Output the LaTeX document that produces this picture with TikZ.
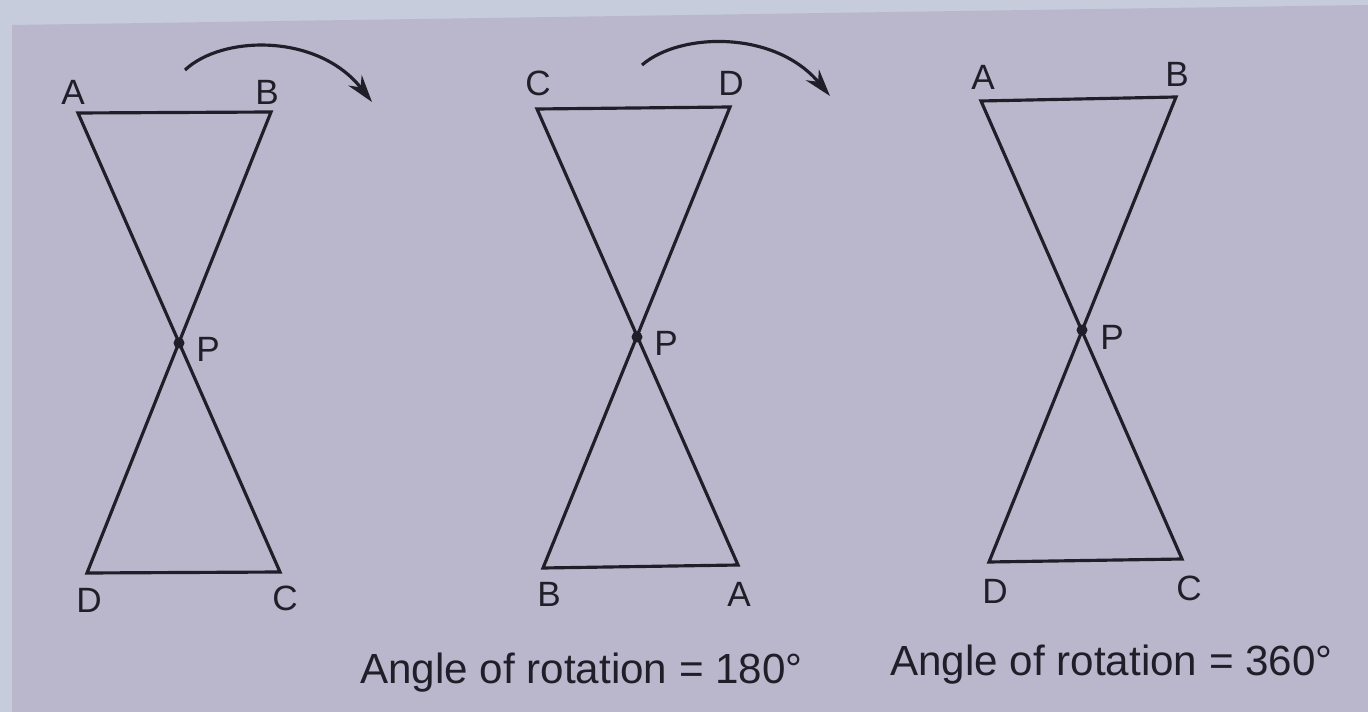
\documentclass[tikz,border=0pt]{standalone}
\usepackage{fontspec}
\setmainfont{Liberation Sans}
\usetikzlibrary{arrows.meta}
\definecolor{pagebg}{RGB}{198,204,219}
\definecolor{paperbg}{RGB}{186,183,204}
\definecolor{inkdark}{RGB}{32,30,40}
\tikzset{
  edge/.style={draw=inkdark, line width=1.8pt, line join=miter},
  vlbl/.style={font=\fontsize{20}{24}\selectfont, text=inkdark, inner sep=0pt},
  caption/.style={font=\fontsize{24}{28}\selectfont, text=inkdark, inner sep=0pt},
  rotarr/.style={draw=inkdark, line width=1.8pt, -{Stealth[length=5.5mm,width=3.4mm]}},
  pdot/.style={circle, fill=inkdark, inner sep=0pt, minimum size=2.2mm},
}
\begin{document}
\begin{tikzpicture}[x=0.02cm,y=-0.02cm]
  \useasboundingbox (0,0) rectangle (1368,712);
  \fill[pagebg] (0,0) rectangle (1368,712);
  \fill[paperbg] (12,25) -- (1368,5) -- (1368,712) -- (12,712) -- cycle;
  % original position
  \coordinate (a1) at (78,113);
  \coordinate (b1) at (271,112);
  \coordinate (c1) at (280,572);
  \coordinate (d1) at (87,573);
  \node[pdot] (p1) at (179,343) {};
  % after half turn
  \coordinate (c2) at (537,109);
  \coordinate (d2) at (730,107);
  \coordinate (a2) at (738,565);
  \coordinate (b2) at (543,568);
  \node[pdot] (p2) at (637,337) {};
  % after full turn
  \coordinate (a3) at (981,101);
  \coordinate (b3) at (1176,97);
  \coordinate (c3) at (1182,559);
  \coordinate (d3) at (989,562);
  \node[pdot] (p3) at (1082,330) {};
  \foreach \i in {1,2,3}{
    \draw[edge] (a\i) -- (b\i) -- (d\i) -- (c\i) -- cycle;
  }
  % vertex labels
  \node[vlbl] (la1) at (73,92)   {A};
  \node[vlbl] (lb1) at (267,92)  {B};
  \node[vlbl] (lc1) at (285,598) {C};
  \node[vlbl] (ld1) at (89,600)  {D};
  \node[vlbl] (lp1) at (208,349) {P};
  \node[vlbl] (lc2) at (538,83)  {C};
  \node[vlbl] (ld2) at (731,83)  {D};
  \node[vlbl] (la2) at (739,594) {A};
  \node[vlbl] (lb2) at (549,594) {B};
  \node[vlbl] (lp2) at (666,343) {P};
  \node[vlbl] (la3) at (983,77)  {A};
  \node[vlbl] (lb3) at (1177,74) {B};
  \node[vlbl] (lc3) at (1189,588) {C};
  \node[vlbl] (ld3) at (995,591) {D};
  \node[vlbl] (lp3) at (1112,337) {P};
  % rotation arrows
  \coordinate (s1) at (185,70);
  \coordinate (k1) at (222,35);
  \coordinate (m1) at (318,33);
  \coordinate (e1) at (372,102);
  \coordinate (s2) at (642,65);
  \coordinate (k2) at (680,32);
  \coordinate (m2) at (775,30);
  \coordinate (e2) at (830,96);
  \draw[rotarr] (s1) .. controls (k1) and (m1) .. (e1);
  \draw[rotarr] (s2) .. controls (k2) and (m2) .. (e2);
  % captions
  \node[caption,anchor=base west] (cap2) at (360,683) {Angle of rotation = 180\textdegree};
  \node[caption,anchor=base west] (cap3) at (890,675) {Angle of rotation = 360\textdegree};
\end{tikzpicture}
\end{document}
